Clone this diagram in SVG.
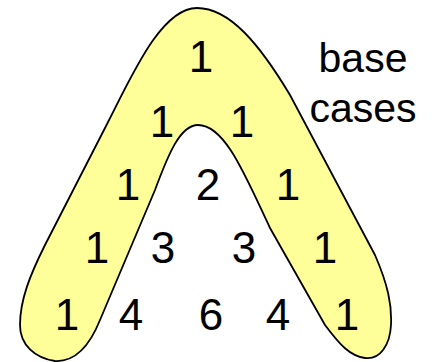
<svg xmlns="http://www.w3.org/2000/svg" width="433" height="362" viewBox="0 0 433 362">
<style>
.n{font-family:"Liberation Sans",Arial,sans-serif;font-size:44px;fill:#000;text-anchor:middle}
.w{font-family:"Liberation Sans",Arial,sans-serif;font-size:41px;fill:#000;text-anchor:middle}
.band{fill:#FFFF99;stroke:#000;stroke-width:1.8}
</style>
<g id="base-band">
<path class="band" d="M 55,361 C 35,358 20,345 20,325 C 20,300 30,275 45,245 L 105,128 C 130,80 160,8 197,8 C 230,8 260,45 290,95 L 375,255 C 388,285 392,305 391,325 C 390,345 380,360 365,358 C 350,356 340,345 325,325 L 270,228 C 245,175 225,125 198,125 C 180,125 168,155 155,190 L 100,320 C 90,345 75,362 55,361 Z"/>
</g>
<g id="labels">
<text class="w" x="363" y="72">base</text>
<text class="w" x="363" y="122">cases</text>
</g>
<g id="row1"><text class="n" x="201" y="72">1</text></g>
<g id="row2">
<text class="n" x="162" y="137">1</text>
<text class="n" x="242" y="137">1</text>
</g>
<g id="row3">
<text class="n" x="128" y="200">1</text>
<text class="n" x="208" y="200">2</text>
<text class="n" x="288" y="200">1</text>
</g>
<g id="row4">
<text class="n" x="97" y="263">1</text>
<text class="n" x="163" y="263">3</text>
<text class="n" x="244" y="263">3</text>
<text class="n" x="325" y="263">1</text>
</g>
<g id="row5">
<text class="n" x="67" y="330">1</text>
<text class="n" x="131" y="330">4</text>
<text class="n" x="211" y="330">6</text>
<text class="n" x="278" y="330">4</text>
<text class="n" x="347" y="330">1</text>
</g>
</svg>
